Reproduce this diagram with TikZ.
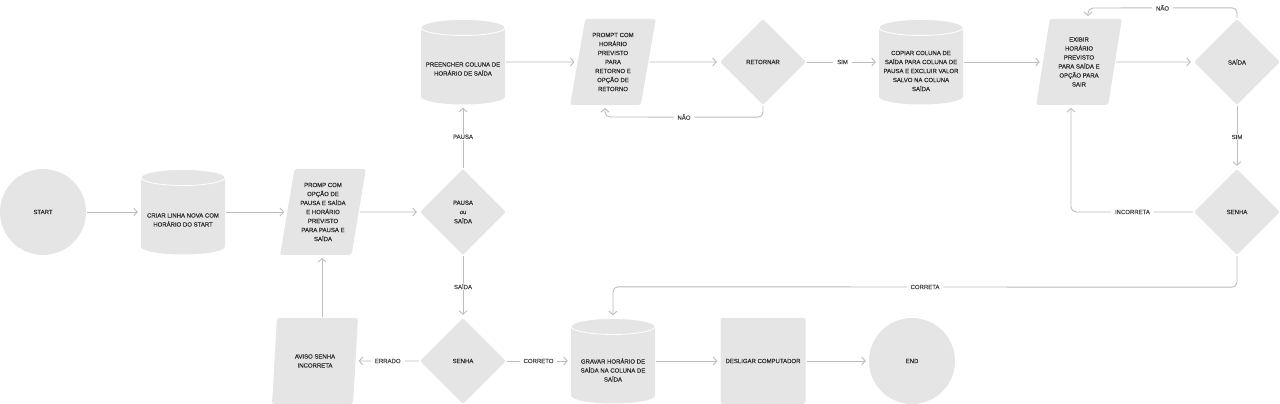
\documentclass[tikz,border=0pt]{standalone}
\usepackage{fontspec}
\setmainfont{Liberation Sans}[FakeBold=0.3]
\usetikzlibrary{shapes.geometric,arrows.meta,calc}
\definecolor{shp}{RGB}{229,229,229}
\definecolor{ln}{RGB}{188,188,188}
\definecolor{tx}{RGB}{45,45,45}
\definecolor{lb}{RGB}{70,70,70}
\newcommand\cylshape[2]{%
  \fill[shp] ({#1-42},{#2+34.5}) -- ({#1-42},{#2-34.5}) arc[start angle=180,end angle=360,x radius=42,y radius=8] -- ({#1+42},{#2+34.5}) arc[start angle=0,end angle=180,x radius=42,y radius=8] -- cycle;
  \draw[white, line width=0.8pt] (#1,{#2+34.5}) ellipse[x radius=42, y radius=8];
}
\begin{document}
\begin{tikzpicture}[x=1pt,y=1pt,
  txt/.style={font=\fontsize{6}{9}\selectfont, text=tx, align=center, inner sep=0},
  circ/.style={circle, fill=shp, minimum size=86pt, inner sep=0, txt},
  dia/.style={diamond, fill=shp, minimum width=86pt, minimum height=86pt, inner sep=0, rounded corners=2pt, txt},
  para/.style={trapezium, trapezium left angle=79, trapezium right angle=101, trapezium stretches=true, minimum width=86pt, minimum height=86pt, fill=shp, inner sep=0, rounded corners=2pt, txt},
  sqbox/.style={rectangle, fill=shp, minimum width=85pt, minimum height=86pt, rounded corners=2pt, txt},
  cylb/.style={rectangle, minimum width=84pt, minimum height=85pt, inner sep=0},
  conn/.style={draw=ln, line width=0.9pt, -{Straight Barb[length=3.5pt,width=8pt]}, shorten >=3pt, shorten <=1pt},
  lbl/.style={font=\fontsize{6}{7}\selectfont, text=lb, fill=white, inner xsep=4pt, inner ysep=1pt},
]
\useasboundingbox (0,0) rectangle (1280,404);

% row middle
\node[circ] (start) at (43,192) {START};
\cylshape{183}{192}
\node[cylb] (criar) at (183,192) {};
\node[txt] (criar-t) at (183,184) {CRIAR LINHA NOVA COM\\HORÁRIO DO START};
\node[para] (promp) at (323,192) {PROMP COM\\OPÇÃO DE\\PAUSA E SAÍDA\\E HORÁRIO\\PREVISTO\\PARA PAUSA E\\SAÍDA};
\node[dia, font=\fontsize{6}{9.3}\selectfont] (pausa) at (463,192) {PAUSA\\ou\\SAÍDA};

% top row
\cylshape{463}{342}
\node[cylb] (preencher) at (463,342) {};
\node[txt] (preencher-t) at (463,335) {PREENCHER COLUNA DE\\HORÁRIO DE SAÍDA};
\node[para] (prompt) at (613,342) {PROMPT COM\\HORÁRIO\\PREVISTO\\PARA\\RETORNO E\\OPÇÃO DE\\RETORNO};
\node[dia] (retornar) at (763,342) {RETORNAR};
\cylshape{921}{342}
\node[cylb] (copiar) at (921,342) {};
\node[txt] (copiar-t) at (921,333) {COPIAR COLUNA DE\\SAÍDA PARA COLUNA DE\\PAUSA E EXCLUIR VALOR\\SALVO NA COLUNA\\SAÍDA};
\node[para] (exibir) at (1079,342) {EXIBIR\\HORÁRIO\\PREVISTO\\PARA SAÍDA E\\OPÇÃO PARA\\SAIR};
\node[dia] (saida) at (1237,342) {SAÍDA};
\node[dia] (senhaR) at (1237,192) {SENHA};

% bottom row
\node[dia] (senhaB) at (463,43) {SENHA};
\node[para] (aviso) at (315,43) {AVISO SENHA\\INCORRETA};
\cylshape{613}{43}
\node[cylb] (gravar) at (613,43) {};
\node[txt] (gravar-t) at (613,34) {GRAVAR HORÁRIO DE\\SAÍDA NA COLUNA DE\\SAÍDA};
\node[sqbox] (desligar) at (763,43) {DESLIGAR COMPUTADOR};
\node[circ] (fim) at (912,43) {END};

% connectors
\draw[conn] (start) -- (criar);
\draw[conn] (criar) -- (promp);
\draw[conn] (promp) -- (pausa);
\draw[conn] (pausa) -- node[lbl]{PAUSA} (preencher);
\draw[conn] (pausa) -- node[lbl]{SAÍDA} (senhaB);
\draw[conn] (senhaB) -- node[lbl]{ERRADO} (aviso);
\draw[conn] (senhaB) -- node[lbl]{CORRETO} (gravar);
\draw[conn] ([shift={(7,43)}]aviso.center) -- ([shift={(-1,-43)}]promp.center);
\draw[conn] (gravar) -- (desligar);
\draw[conn] (desligar) -- (fim);
\draw[conn] (preencher) -- (prompt);
\draw[conn] (prompt) -- (retornar);
\draw[conn, rounded corners=5pt] (retornar.south) -- ($(retornar.south)+(0,-12)$) -- node[lbl]{NÃO} ([shift={(-8,-55)}]prompt.center) -- ([shift={(-8,-43)}]prompt.center);
\draw[conn] (retornar) -- node[lbl]{SIM} (copiar);
\draw[conn] (copiar) -- (exibir);
\draw[conn] (exibir) -- (saida);
\draw[conn, rounded corners=5pt] (saida.north) -- ($(saida.north)+(0,11)$) -- node[lbl]{NÃO} ([shift={(9,54)}]exibir.center) -- ([shift={(9,43)}]exibir.center);
\draw[conn] (saida) -- node[lbl]{SIM} (senhaR);
\draw[conn, rounded corners=5pt] (senhaR.west) -- node[lbl]{INCORRETA} ([shift={(-8,-150)}]exibir.center) -- ([shift={(-8,-43)}]exibir.center);
\draw[conn, rounded corners=5pt] (senhaR.south) -- ($(senhaR.south)+(0,-32)$) -- node[lbl]{CORRETA} ([yshift=31.5pt]gravar.north) -- (gravar.north);
\end{tikzpicture}
\end{document}
